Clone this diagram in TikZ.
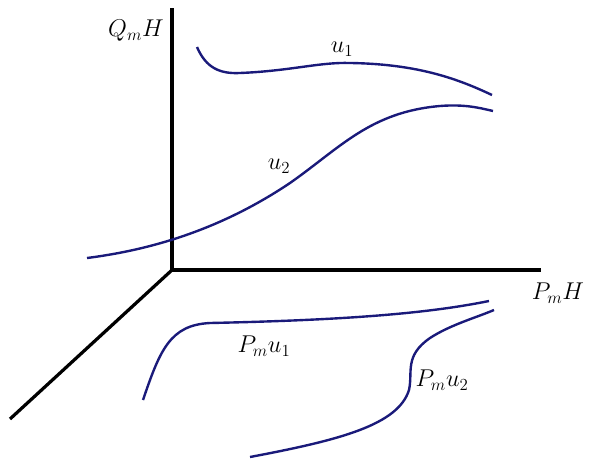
\documentclass[tikz,border=0pt]{standalone}
\usepackage{amsmath, amssymb}
\usepackage{xcolor}
\definecolor{curve-blue}{HTML}{1A1A7A}

\begin{document}
\begin{tikzpicture}[x=0.025cm, y=-0.025cm,
    every node/.style={font=\LARGE, inner sep=1pt},
    axis/.style={line width=2.3pt, black},
    curve/.style={line width=1.7pt, color=curve-blue}]
    \useasboundingbox (0,0) rectangle (591,460);
    % axes
    \coordinate (O) at (172,270);
    \coordinate (qtop) at (172,8);
    \coordinate (pend) at (541,270);
    \coordinate (dend) at (10,419);
    \draw[axis] (qtop) -- (O) -- (pend);
    \draw[axis] (O) -- (dend);
    \node (qlab) at (136,31) {$Q_mH$};
    \node (plab) at (558,293) {$P_mH$};
    % curves above the plane
    \draw[curve] (197,47) .. controls (206,68) and (220,74) .. (240,73)
      .. controls (290,71) and (320,62) .. (350,63)
      .. controls (420,64) and (460,80) .. (492,95);
    \draw[curve] (87,258) .. controls (150,250) and (220,230) .. (290,183)
      .. controls (340,148) and (370,112) .. (440,106)
      .. controls (465,104) and (480,108) .. (493,111);
    \node (u1) at (342,49) {$u_1$};
    \node (u2) at (279,166) {$u_2$};
    % curves below the plane
    \draw[curve] (143,400) .. controls (160,350) and (170,325) .. (210,323)
      .. controls (350,320) and (430,313) .. (489,301);
    \draw[curve] (250,457) .. controls (340,440) and (398,425) .. (409,390)
      .. controls (413,372) and (404,356) .. (430,338)
      .. controls (450,325) and (475,318) .. (494,310);
    \node (pu1) at (264,346) {$P_mu_1$};
    \node (pu2) at (442,380) {$P_mu_2$};
\end{tikzpicture}
\end{document}
